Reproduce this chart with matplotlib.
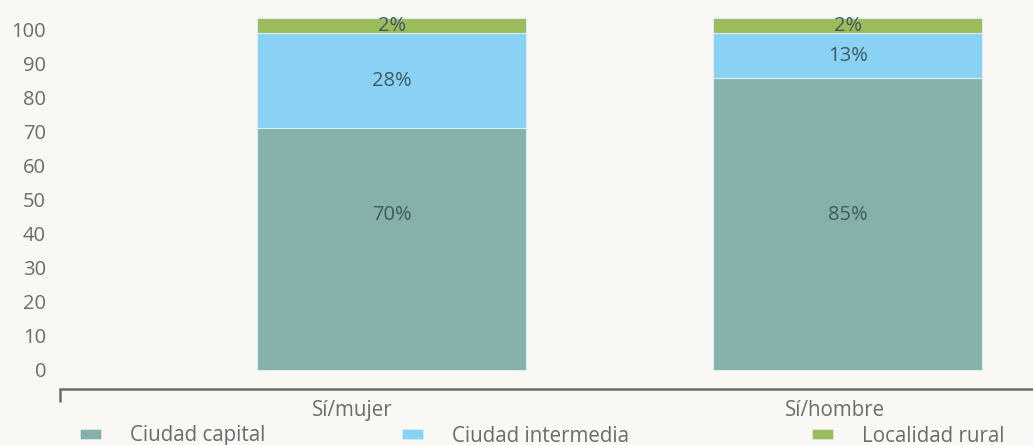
import matplotlib.pyplot as plt
from matplotlib.patches import Patch

plt.rcParams['font.family'] = ['Open Sans', 'DejaVu Sans']

categories = ['Sí/mujer', 'Sí/hombre']
series = ['Ciudad capital', 'Ciudad intermedia', 'Localidad rural']
# segment heights as drawn in the picture
capital = [71.0, 85.6]
intermedia = [27.8, 13.2]
rural = [4.4, 4.4]
# printed labels
capital_lbl = ['70%', '85%']
intermedia_lbl = ['28%', '13%']
rural_lbl = ['2%', '2%']

colors = ['#86b1ab', '#89d2f4', '#9cbb5a']
bg = '#f9f8f5'
txt = '#6b6b6b'
lbl = '#405a62'

fig = plt.figure(figsize=(10.33, 4.45), dpi=100, facecolor=bg)
ax = fig.add_axes([60 / 1033, 1 - 389 / 445, 1 - 60 / 1033, (389 - 12) / 445])
ax.set_facecolor(bg)

x = range(len(categories))
bottom = [0.0] * len(categories)
for vals, labels, c in zip([capital, intermedia, rural],
                           [capital_lbl, intermedia_lbl, rural_lbl], colors):
    ax.bar(x, vals, width=0.59, bottom=bottom, color=c,
           edgecolor='#d9eef0', linewidth=0.8)
    for i, (v, t) in enumerate(zip(vals, labels)):
        y = bottom[i] + v / 2 if bottom[i] > 0 else 45.5
        ax.text(i, y, t, ha='center', va='center', fontsize=14.5, color=lbl)
    bottom = [b + v for b, v in zip(bottom, vals)]

ax.set_xlim(-0.728, 1.406)
ax.set_ylim(-5.6, 105)
ax.set_yticks(range(0, 101, 10))
ax.set_xticks([])
ax.set_xticks([-0.728], minor=True)
ax.tick_params(axis='x', which='minor', length=9, width=1.8, color='#6d6d6d',
               direction='out', labelbottom=False)
ax.tick_params(axis='y', length=0, pad=10, labelsize=14.5, labelcolor=txt)
for s in ['top', 'right', 'left']:
    ax.spines[s].set_visible(False)
ax.spines['bottom'].set_color('#6d6d6d')
ax.spines['bottom'].set_linewidth(1.8)

# category labels sit a little left of the bar centres in the original
for i, (cat, off) in enumerate(zip(categories, [-0.086, -0.029])):
    ax.text(i + off, -0.028, cat, transform=ax.get_xaxis_transform(),
            ha='center', va='top', fontsize=14.8, color=txt)

# one legend entry each, at the positions used in the original
for name, c, px in zip(series, colors, [80, 402, 812]):
    leg = fig.legend([Patch(facecolor=c, edgecolor='#d9eef0', linewidth=0.5)], [name],
                     loc='center left', bbox_to_anchor=(px / 1033, 1 - 436 / 445),
                     frameon=False, fontsize=14.8, labelcolor=txt,
                     handlelength=1.0, handleheight=0.4, handletextpad=1.45,
                     borderaxespad=0, borderpad=0)

fig.savefig('out.png', dpi=100, facecolor=bg)
